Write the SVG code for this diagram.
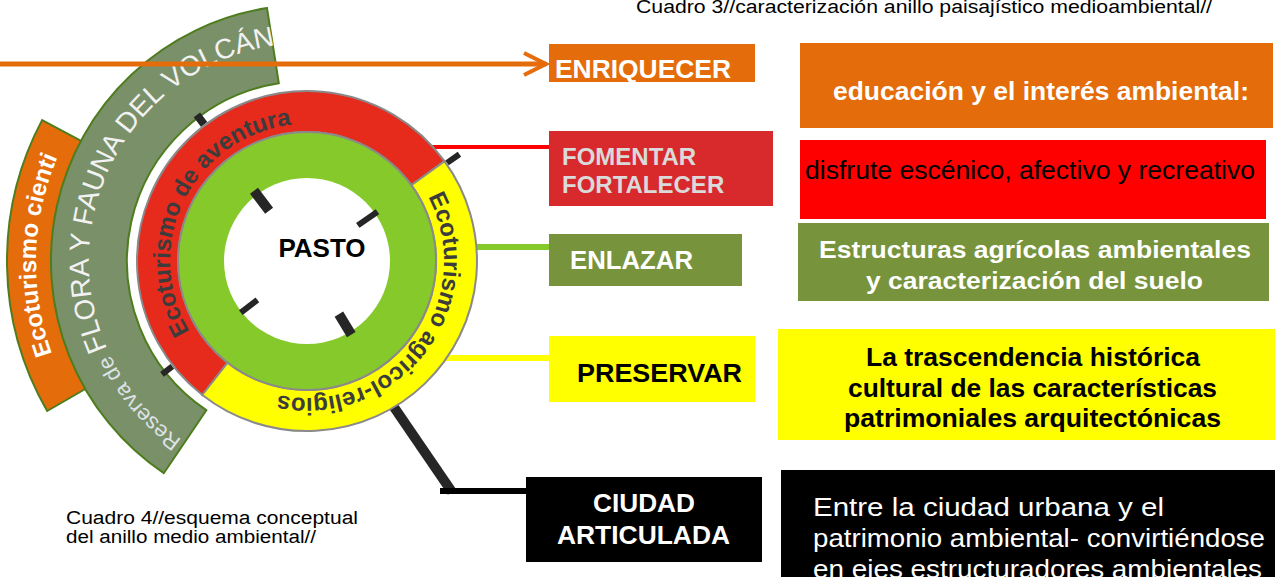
<svg xmlns="http://www.w3.org/2000/svg" width="1275" height="577" viewBox="0 0 1275 577">
<style>
text{font-family:"Liberation Sans",Arial,sans-serif}
.b{font-weight:bold}
.w{fill:#ffffff}
.k{fill:#000000}
.ring{stroke:#8a8a8a;stroke-width:2}
.band{stroke:#4e7d1e;stroke-width:2}
.tick{stroke:#262626;stroke-linecap:butt}
.rt{font-weight:bold;font-size:24px;fill:#3c3c3c}
</style>
<defs>
<marker id="arrowO" markerUnits="userSpaceOnUse" markerWidth="32" markerHeight="32" refX="26" refY="15" orient="auto">
<path d="M4,4 L26,15 L4,26" fill="none" stroke="#e46c0a" stroke-width="4"/>
</marker>
<path id="pCient" d="M52.0,354.0 A270,270 0 0 1 73.2,126"/>
<path id="pReserva" d="M181.9,439.6 A218,218 0 0 1 299.4,43.1"/>
<path id="pAventura" d="M189.6,331.6 A137,137 0 0 1 318.9,124.5"/>
<path id="pAgricol" d="M428.0,196.7 A137,137 0 0 1 260.1,389.7"/>
</defs>
<rect width="1275" height="577" fill="#ffffff"/>

<g id="title-cuadro3">
<text x="636" y="13" font-size="18" textLength="576" lengthAdjust="spacingAndGlyphs" class="k">Cuadro 3//caracterización anillo paisajístico medioambiental//</text>
</g>

<g id="band-cientifico">
<path class="band" fill="#e46c0a" d="M47.2,411 A300,300 0 0 1 42.1,120.1 L86.3,143.6 A250,250 0 0 0 90.5,386 Z"/>
<text class="b w" font-size="24"><textPath href="#pCient">Ecoturismo cienti</textPath></text>
</g>

<g id="band-reserva">
<path class="band" fill="#7a9068" d="M163.8,473.2 A256,256 0 0 1 267.0,8.1 L278.8,83.2 A180,180 0 0 0 206.3,410.2 Z"/>
<text><textPath href="#pReserva"><tspan font-size="22" fill="#dde2e6">Reserva de </tspan><tspan font-size="28" fill="#f2f2f2">FLORA Y FAUNA DEL VOLCÁN</tspan></textPath></text>
</g>

<g id="connectors" fill="none">
<line x1="0" y1="64" x2="546" y2="64" stroke="#e46c0a" stroke-width="5" marker-end="url(#arrowO)"/>
<line x1="420" y1="147" x2="549" y2="147" stroke="#ff0000" stroke-width="4"/>
<line x1="460" y1="247" x2="549" y2="247" stroke="#86c92b" stroke-width="6"/>
<line x1="430" y1="358" x2="549" y2="358" stroke="#ffff00" stroke-width="6"/>
<line x1="385" y1="394" x2="452" y2="492" stroke="#262626" stroke-width="10"/>
<line x1="440" y1="491" x2="527" y2="491" stroke="#000000" stroke-width="6"/>
</g>

<g id="ring-aventura">
<path class="ring" fill="#e62a1c" d="M202.3,395.0 A170,170 0 1 1 444.5,161.1 L411.4,185.2 A129,129 0 1 0 227.6,362.7 Z"/>
<text class="rt"><textPath href="#pAventura">Ecoturismo de aventura</textPath></text>
</g>

<g id="ring-agricol">
<path class="ring" fill="#ffff00" d="M444.5,161.1 A170,170 0 0 1 202.3,395.0 L227.6,362.7 A129,129 0 0 0 411.4,185.2 Z"/>
<text class="rt"><textPath href="#pAgricol">Ecoturismo agricol-religios</textPath></text>
</g>

<g id="ring-pasto">
<circle cx="307" cy="261" r="129" fill="#86c92b" class="ring"/>
<circle cx="307" cy="261" r="83" fill="#ffffff"/>
<text x="322" y="257" font-size="26" text-anchor="middle" class="b k">PASTO</text>
</g>

<g id="ticks">
<line class="tick" stroke-width="6" x1="357.8" y1="225.4" x2="377.5" y2="211.7"/>
<line class="tick" stroke-width="6" x1="447.1" y1="162.9" x2="459.4" y2="154.3"/>
<line class="tick" stroke-width="10" x1="338.9" y1="314.1" x2="351.3" y2="334.7"/>
<line class="tick" stroke-width="6" x1="257.4" y1="299.8" x2="240.8" y2="312.7"/>
<line class="tick" stroke-width="6" x1="172.3" y1="366.3" x2="162" y2="374.3"/>
<line class="tick" stroke-width="10" x1="269.1" y1="210.7" x2="254" y2="190.7"/>
<line class="tick" stroke-width="8" x1="204.1" y1="124.4" x2="196.9" y2="114.9"/>
</g>

<g id="node-enriquecer">
<rect x="549" y="44" width="206" height="38" fill="#e46c0a"/>
<text x="555" y="78" font-size="26" textLength="176" lengthAdjust="spacingAndGlyphs" class="b w">ENRIQUECER</text>
</g>

<g id="desc-educacion">
<rect x="800" y="43" width="473" height="85" fill="#e46c0a"/>
<text x="833" y="100" font-size="25" textLength="416" lengthAdjust="spacingAndGlyphs" class="b w">educación y el interés ambiental:</text>
</g>

<g id="node-fomentar">
<rect x="549" y="131" width="224" height="75" fill="#d8292d"/>
<text x="562" y="165" font-size="24" class="b" fill="#dadada">FOMENTAR</text>
<text x="562" y="193" font-size="24" class="b" fill="#dadada">FORTALECER</text>
</g>

<g id="desc-disfrute">
<rect x="800" y="140" width="466" height="79" fill="#ff0000"/>
<text x="805" y="179" font-size="25" textLength="450" lengthAdjust="spacingAndGlyphs" class="k">disfrute escénico, afectivo y recreativo</text>
</g>

<g id="node-enlazar">
<rect x="549" y="234" width="193" height="52" fill="#77933c"/>
<text x="570" y="269" font-size="25" textLength="123" lengthAdjust="spacingAndGlyphs" class="b w">ENLAZAR</text>
</g>

<g id="desc-estructuras">
<rect x="798" y="223" width="471" height="78" fill="#77933c"/>
<text x="819" y="258" font-size="24" textLength="432" lengthAdjust="spacingAndGlyphs" class="b w">Estructuras agrícolas ambientales</text>
<text x="866" y="289" font-size="24" textLength="337" lengthAdjust="spacingAndGlyphs" class="b w">y caracterización del suelo</text>
</g>

<g id="node-preservar">
<rect x="549" y="336" width="206" height="66" fill="#ffff00"/>
<text x="577" y="382" font-size="26" textLength="165" lengthAdjust="spacingAndGlyphs" class="b k">PRESERVAR</text>
</g>

<g id="desc-trascendencia">
<rect x="778" y="329" width="497" height="111" fill="#ffff00"/>
<text x="866" y="366" font-size="25" textLength="334" lengthAdjust="spacingAndGlyphs" class="b k">La trascendencia histórica</text>
<text x="848" y="397" font-size="25" textLength="369" lengthAdjust="spacingAndGlyphs" class="b k">cultural de las características</text>
<text x="844" y="427" font-size="25" textLength="377" lengthAdjust="spacingAndGlyphs" class="b k">patrimoniales arquitectónicas</text>
</g>

<g id="node-ciudad">
<rect x="526" y="477" width="236" height="85" fill="#000000"/>
<text x="593" y="512" font-size="26" textLength="102" lengthAdjust="spacingAndGlyphs" class="b w">CIUDAD</text>
<text x="557" y="544" font-size="26" textLength="173" lengthAdjust="spacingAndGlyphs" class="b w">ARTICULADA</text>
</g>

<g id="desc-ciudad">
<rect x="781" y="470" width="494" height="107" fill="#000000"/>
<text x="813" y="516" font-size="26" textLength="351" lengthAdjust="spacingAndGlyphs" class="w">Entre la ciudad urbana y el</text>
<text x="813" y="547" font-size="26" textLength="452" lengthAdjust="spacingAndGlyphs" class="w">patrimonio ambiental- convirtiéndose</text>
<text x="813" y="578" font-size="26" textLength="449" lengthAdjust="spacingAndGlyphs" class="w">en ejes estructuradores ambientales</text>
</g>

<g id="caption-cuadro4">
<text x="66" y="524" font-size="18" textLength="292" lengthAdjust="spacingAndGlyphs" class="k">Cuadro 4//esquema conceptual</text>
<text x="66" y="543" font-size="18" textLength="250" lengthAdjust="spacingAndGlyphs" class="k">del anillo medio ambiental//</text>
</g>
</svg>
